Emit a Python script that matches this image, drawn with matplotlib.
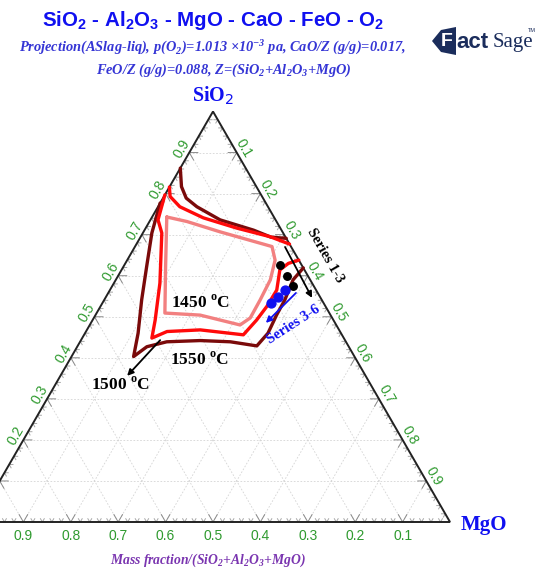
import numpy as np
import matplotlib
matplotlib.use("Agg")
import matplotlib.pyplot as plt
from matplotlib.patches import Polygon

# ---------------- data (mass fractions: SiO2, MgO; Al2O3 = 1 - SiO2 - MgO) ----------------
# 1550 oC liquidus boundary
sio2_1550_a = [0.691, 0.694, 0.711, 0.736, 0.768, 0.789, 0.817, 0.862]
mgo_1550_a = [0.309, 0.275, 0.230, 0.147, 0.082, 0.049, 0.025, 0.000]
sio2_1550_b = [0.777, 0.704, 0.622, 0.541, 0.460, 0.403, 0.427, 0.439, 0.442, 0.439, 0.429,
               0.460, 0.504, 0.541, 0.590, 0.619]
mgo_1550_b = [0.000, 0.019, 0.049, 0.079, 0.112, 0.131, 0.147, 0.183, 0.252, 0.317, 0.378,
              0.386, 0.382, 0.381, 0.374, 0.381]

# 1500 oC liquidus boundary
sio2_1500_a = [0.677, 0.695, 0.716, 0.741, 0.768, 0.793, 0.816]
mgo_1500_a = [0.323, 0.273, 0.192, 0.109, 0.046, 0.013, 0.000]
sio2_1500_b = [0.797, 0.736, 0.704, 0.582, 0.492, 0.448, 0.464, 0.468, 0.456,
               0.492, 0.525, 0.565, 0.614, 0.630, 0.638]
mgo_1500_b = [0.000, 0.016, 0.040, 0.097, 0.132, 0.147, 0.171, 0.239, 0.336,
              0.346, 0.351, 0.352, 0.334, 0.344, 0.362]

# 1450 oC liquidus boundary (closed)
sio2_1450 = [0.743, 0.732, 0.707, 0.671, 0.638, 0.590, 0.541, 0.497, 0.480, 0.504, 0.509, 0.622, 0.743]
mgo_1450 = [0.031, 0.079, 0.161, 0.289, 0.312, 0.326, 0.329, 0.330, 0.317, 0.221, 0.144, 0.089, 0.031]

# experimental compositions
sio2_s13 = [0.626, 0.599, 0.575]
mgo_s13 = [0.328, 0.356, 0.382]
sio2_s36 = [0.564, 0.549, 0.534]
mgo_s36 = [0.370, 0.363, 0.355]

tick_values = [0.1, 0.2, 0.3, 0.4, 0.5, 0.6, 0.7, 0.8, 0.9]
tick_labels = ["0.1", "0.2", "0.3", "0.4", "0.5", "0.6", "0.7", "0.8", "0.9"]

H = np.sqrt(3) / 2


def tern(sio2, mgo):
    """Ternary (SiO2, MgO) -> cartesian; Al2O3 corner at the origin."""
    s = np.asarray(sio2, dtype=float)
    m = np.asarray(mgo, dtype=float)
    return m + s / 2, s * H


W, HT = 535, 569
fig = plt.figure(figsize=(W / 100, HT / 100), dpi=100)
ax = fig.add_axes([0, 0, 1, 1])
x_lo, x_hi = 24 / 474, 559 / 474
ax.set_xlim(x_lo, x_hi)
ax.set_ylim(-47 / 474, 522 / 474)
ax.axis("off")

# grid lines
grid_kw = dict(color="#d4d4d4", lw=0.6, ls=(0, (2, 2)), zorder=1)
for v in np.arange(0.1, 1.0, 0.1):
    x, y = tern([v, v], [0, 1 - v])          # constant SiO2
    ax.plot(x, y, **grid_kw)
    x, y = tern([0, 1 - v], [v, v])          # constant MgO
    ax.plot(x, y, **grid_kw)
    x, y = tern([0, 1 - v], [1 - v, 0])      # constant Al2O3
    ax.plot(x, y, **grid_kw)

# edge tick marks
for k in range(1, 50):
    v = k / 50
    major = (k % 5 == 0)
    L = 0.018 if major else 0.008
    col = "#8a8a8a" if major else "#a8a8a8"
    x0, y0 = tern(0, 1 - v)                  # bottom edge (Al2O3 axis)
    ax.plot([x0 - L / 2, x0, x0 + L / 2], [y0 + L * H, y0, y0 + L * H], color=col, lw=0.7, zorder=2)
    x0, y0 = tern(v, 0)                      # left edge (SiO2 axis)
    ax.plot([x0 + L, x0, x0 + L / 2], [y0, y0, y0 - L * H], color=col, lw=0.7, zorder=2)
    x0, y0 = tern(1 - v, v)                  # right edge (MgO axis)
    ax.plot([x0 - L, x0, x0 - L / 2], [y0, y0, y0 - L * H], color=col, lw=0.7, zorder=2)

# triangle frame
fx, fy = tern([0, 1, 0, 0], [0, 0, 1, 0])
ax.plot(fx, fy, color="#222222", lw=1.4, zorder=3, solid_joinstyle="miter")

# tick labels
green = "#2f9a2f"
off = 0.018
lab_kw = dict(color=green, fontsize=10, family="Liberation Sans", ha="center", va="center", zorder=4)
for v, lab in zip(tick_values, tick_labels):
    x, y = tern(v, 0)
    lx = x - off * 0.866
    if lx - 0.01 > x_lo:
        ax.text(lx, y + off * 0.5, lab, rotation=60, **lab_kw)
    x, y = tern(1 - v, v)
    ax.text(x + off * 0.866, y + off * 0.5, lab, rotation=-60, **lab_kw)
    x, y = tern(0, 1 - v)
    ax.text(x, y - 0.03, lab, **lab_kw)

# corner labels
blue = "#1010f0"
x, y = tern(1, 0)
ax.text(x, y + 0.033, "SiO$_2$", color=blue, fontsize=14.5, family="Liberation Serif",
        fontweight="bold", ha="center", va="center")
x, y = tern(0, 1)
ax.text(x + 0.071, y - 0.007, "MgO", color=blue, fontsize=15, family="Liberation Serif",
        fontweight="bold", ha="center", va="center")

# liquidus boundaries
c1550, c1500, c1450 = "#7a0a0a", "#ff0a0a", "#f28080"
lw = 2.4
for s, m, c in [(sio2_1550_a, mgo_1550_a, c1550), (sio2_1550_b, mgo_1550_b, c1550),
                (sio2_1500_a, mgo_1500_a, c1500), (sio2_1500_b, mgo_1500_b, c1500),
                (sio2_1450, mgo_1450, c1450)]:
    x, y = tern(s, m)
    ax.plot(x, y, color=c, lw=lw, zorder=5, solid_joinstyle="round", solid_capstyle="round")

# experimental points
x, y = tern(sio2_s13, mgo_s13)
ax.plot(x, y, "o", color="black", ms=5.4, zorder=7)
x, y = tern(sio2_s36, mgo_s36)
ax.plot(x, y, "o", color="#1010f0", ms=6.4, zorder=7)


# arrows and annotations
def arrow(s0, m0, s1, m1, color):
    x0, y0 = tern(s0, m0)
    x1, y1 = tern(s1, m1)
    ax.annotate("", xy=(x1, y1), xytext=(x0, y0),
                arrowprops=dict(arrowstyle="-|>", color=color, lw=1.3,
                                mutation_scale=9, shrinkA=0, shrinkB=0), zorder=8)


arrow(0.670, 0.317, 0.546, 0.436, "black")
arrow(0.558, 0.396, 0.485, 0.369, "#1010f0")
arrow(0.443, 0.167, 0.356, 0.141, "black")

serif = "Liberation Serif"
for s, m, txt in [(0.534, 0.206, "1450 $^{\\mathregular{o}}$C"),
                  (0.395, 0.275, "1550 $^{\\mathregular{o}}$C"),
                  (0.334, 0.137, "1500 $^{\\mathregular{o}}$C")]:
    x, y = tern(s, m)
    ax.text(x, y, txt, fontsize=12.5, family=serif, fontweight="bold",
            ha="center", va="center", zorder=9)

x, y = tern(0.650, 0.411)
ax.text(x, y, "Series 1-3", fontsize=10.5, family=serif, fontweight="bold",
        rotation=-60, ha="center", va="center", zorder=9)
x, y = tern(0.480, 0.429)
ax.text(x, y, "Series 3-6", fontsize=10.5, family=serif, fontweight="bold", color="#1010f0",
        rotation=33, ha="center", va="center", zorder=9)

# titles
fig.text(213 / W, 1 - 21 / HT,
         "SiO$_\\mathregular{2}$ - Al$_\\mathregular{2}$O$_\\mathregular{3}$ - MgO - CaO - FeO - O$_\\mathregular{2}$",
         color=blue, fontsize=14.8, family="Liberation Sans", fontweight="bold",
         ha="center", va="center")
sub = "#3535d5"
fig.text(212 / W, 1 - 47 / HT,
         "Projection(ASlag-liq), p(O$_\\mathregular{2}$)=1.013 \u00d710$^{\\mathregular{-3}}$ pa, CaO/Z (g/g)=0.017,",
         color=sub, fontsize=10.4, family=serif, fontweight="bold", style="italic",
         ha="center", va="center")
fig.text(224 / W, 1 - 70 / HT,
         "FeO/Z (g/g)=0.088, Z=(SiO$_\\mathregular{2}$+Al$_\\mathregular{2}$O$_\\mathregular{3}$+MgO)",
         color=sub, fontsize=10.4, family=serif, fontweight="bold", style="italic",
         ha="center", va="center")
fig.text(208 / W, 1 - 560 / HT,
         "Mass fraction/(SiO$_\\mathregular{2}$+Al$_\\mathregular{2}$O$_\\mathregular{3}$+MgO)",
         color="#7a35b0", fontsize=9.8, family=serif, fontweight="bold", style="italic",
         ha="center", va="center")

# FactSage logo
navy = "#1b2d5c"
logo = fig.add_axes([432 / W, 1 - 58 / HT, 102 / W, 34 / HT])
logo.set_xlim(0, 102)
logo.set_ylim(0, 34)
logo.axis("off")
logo.add_patch(Polygon([[0, 17], [9, 28], [24, 31], [24, 3], [9, 6]], closed=True,
                       facecolor=navy, edgecolor="none"))
logo.text(15, 17, "F", color="white", fontsize=14, fontweight="bold",
          family="Liberation Sans", ha="center", va="center")
logo.text(24, 16, "act", color=navy, fontsize=16, fontweight="bold",
          family="Liberation Sans", ha="left", va="center")
logo.text(61, 16, "Sage", color=navy, fontsize=15, family="Liberation Serif",
          ha="left", va="center")
logo.text(96, 27, "TM", color=navy, fontsize=4, family="Liberation Sans",
          ha="left", va="center")

fig.savefig("out.png", dpi=100)
